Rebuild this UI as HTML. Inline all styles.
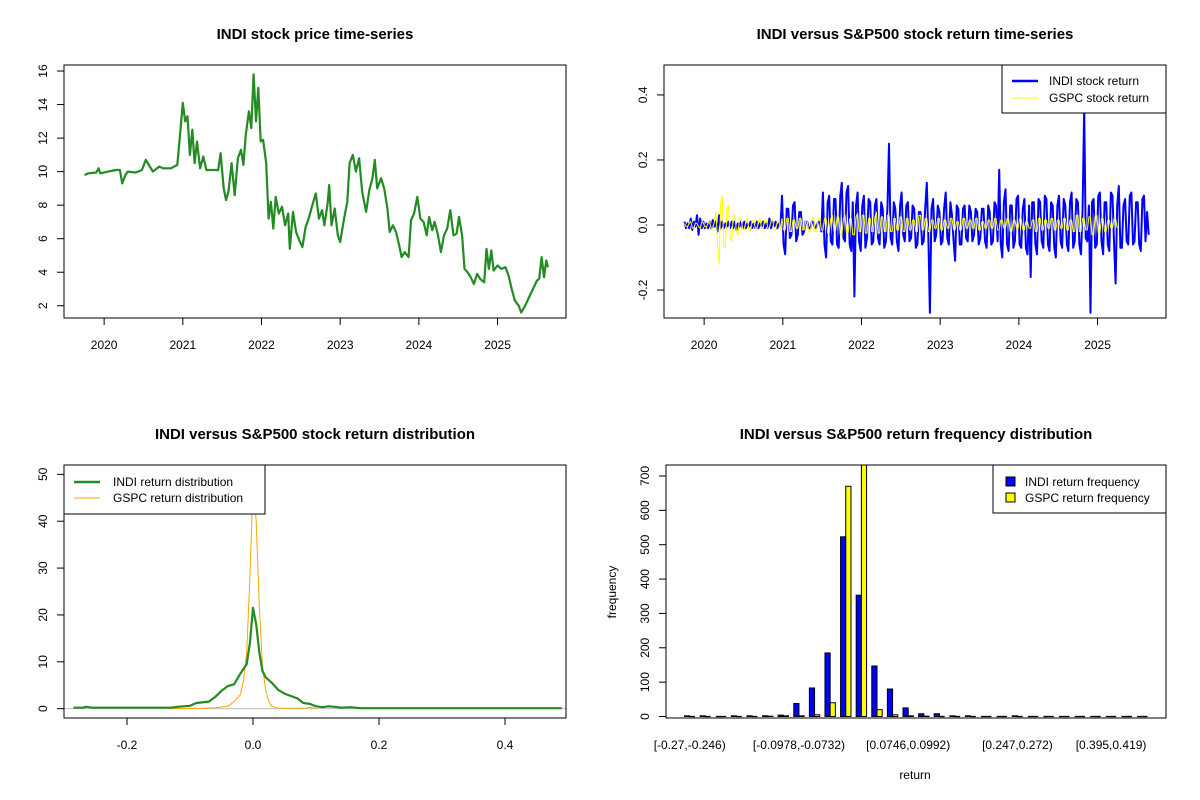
<!DOCTYPE html>
<html><head><meta charset="utf-8"><style>
html,body{margin:0;padding:0;background:#fff}
svg{display:block;font-family:"Liberation Sans",Arial,sans-serif}
</style></head><body>
<svg id="c" width="1200" height="800" xmlns="http://www.w3.org/2000/svg"></svg>
<script>
// ---------- data ----------
const priceT=[2019.75,2019.8,2019.9,2019.93,2019.95,2020.05,2020.15,2020.2,2020.23,2020.27,2020.3,2020.4,2020.48,2020.53,2020.58,2020.62,2020.7,2020.75,2020.85,2020.93,2020.97,2021.0,2021.03,2021.06,2021.09,2021.12,2021.15,2021.18,2021.22,2021.26,2021.3,2021.45,2021.48,2021.52,2021.55,2021.58,2021.62,2021.66,2021.7,2021.74,2021.77,2021.8,2021.84,2021.87,2021.9,2021.93,2021.96,2021.99,2022.02,2022.06,2022.09,2022.12,2022.15,2022.18,2022.22,2022.26,2022.3,2022.34,2022.36,2022.4,2022.44,2022.48,2022.52,2022.56,2022.6,2022.64,2022.69,2022.73,2022.77,2022.8,2022.84,2022.86,2022.89,2022.93,2022.97,2023.0,2023.05,2023.09,2023.12,2023.16,2023.2,2023.24,2023.28,2023.33,2023.37,2023.41,2023.44,2023.47,2023.52,2023.56,2023.6,2023.63,2023.67,2023.71,2023.75,2023.78,2023.82,2023.87,2023.9,2023.94,2023.98,2024.02,2024.06,2024.1,2024.13,2024.17,2024.2,2024.24,2024.28,2024.32,2024.36,2024.4,2024.44,2024.48,2024.51,2024.55,2024.58,2024.62,2024.66,2024.7,2024.74,2024.78,2024.83,2024.86,2024.89,2024.92,2024.95,2025.0,2025.05,2025.1,2025.14,2025.18,2025.22,2025.27,2025.3,2025.35,2025.4,2025.45,2025.5,2025.53,2025.56,2025.59,2025.62,2025.64];
const priceV=[9.8,9.9,9.95,10.2,9.9,10.0,10.1,10.1,9.3,9.8,10.0,9.95,10.1,10.7,10.3,10.0,10.3,10.2,10.2,10.4,12.5,14.1,13.0,13.3,11.0,12.5,10.5,11.8,10.2,10.9,10.1,10.1,11.1,9.0,8.3,8.8,10.5,8.6,10.8,11.3,10.4,12.2,13.6,12.6,15.8,13.0,15.0,11.8,11.9,10.5,7.2,8.2,6.6,8.5,7.5,7.9,6.8,7.5,5.4,7.6,6.4,5.9,5.5,6.7,7.2,7.9,8.7,7.2,7.7,6.8,8.1,9.2,6.8,7.8,6.2,5.8,7.2,8.2,10.5,11.0,10.0,10.8,8.8,7.6,8.9,9.6,10.7,9.0,9.6,9.0,7.8,6.4,6.8,6.4,5.6,4.9,5.2,4.9,7.1,7.5,8.5,7.2,7.0,6.2,7.3,6.5,7.0,6.3,5.2,6.2,6.6,7.7,6.2,6.3,7.3,6.2,4.2,4.0,3.7,3.3,3.9,3.6,3.4,5.4,4.2,5.3,4.1,4.4,4.2,4.3,3.8,3.0,2.3,2.0,1.6,2.0,2.5,3.0,3.5,3.6,4.9,3.7,4.7,4.3];
const retStart=2019.75, retStep=0.02;
const indiRet=[
0.01,-0.01,0.005,-0.01,0.02,-0.015,0.01,-0.005,0.03,-0.03,
0.02,-0.01,0.01,-0.01,0.005,-0.01,0.01,-0.01,0.015,-0.005,
0.01,-0.02,0.03,-0.01,0.01,-0.01,0.005,-0.005,0.01,-0.01,
0.01,-0.01,0.01,-0.015,0.005,-0.005,0.01,-0.01,0.01,-0.01,
0.005,-0.005,0.01,-0.01,0.005,-0.01,0.01,-0.01,0.005,-0.005,
0.01,-0.01,0.005,-0.01,0.02,-0.01,0.01,-0.005,0.01,-0.01,
0.005,-0.005,
0.09,-0.06,-0.09,0.05,0.05,-0.04,-0.03,0.06,0.07,-0.05,-0.03,0.04,0.04,-0.03,-0.02,0.01,
0.01,-0.01,-0.01,0.01,0.01,-0.01,-0.005,0.01,0.01,-0.02,
0.1,-0.06,-0.1,0.07,0.09,-0.05,-0.06,0.08,0.08,-0.06,-0.07,0.09,0.13,-0.04,-0.05,0.1,0.12,-0.06,-0.08,0.07,
-0.22,0.06,
0.1,-0.05,-0.08,0.06,0.09,-0.07,-0.04,0.08,0.07,-0.06,-0.05,0.06,0.08,-0.04,-0.06,0.07,0.05,-0.07,-0.05,0.06,
0.25,-0.04,
-0.06,0.07,0.05,-0.05,-0.08,0.06,0.1,-0.03,-0.05,0.06,0.07,-0.05,-0.04,0.06,0.05,-0.07,-0.06,0.04,0.04,-0.06,-0.05,0.05,0.13,-0.04,
-0.27,0.05,
0.08,-0.05,-0.03,0.06,0.04,-0.06,-0.05,0.05,0.1,-0.04,-0.06,0.07,0.03,-0.05,-0.11,0.06,0.05,-0.06,-0.06,0.05,0.06,-0.04,-0.05,0.06,0.04,-0.05,-0.03,0.05,0.04,-0.06,-0.04,0.05,0.05,-0.05,-0.07,0.06,0.04,-0.06,-0.05,0.07,0.06,-0.05,
0.17,-0.06,
-0.1,0.07,0.11,-0.06,-0.08,0.06,0.06,-0.07,-0.05,0.08,0.09,-0.06,-0.07,0.05,0.08,-0.07,-0.09,0.06,
-0.16,0.07,
0.07,-0.06,-0.09,0.08,0.07,-0.05,-0.07,0.09,0.08,-0.06,-0.08,0.07,0.06,-0.07,-0.1,0.06,0.09,-0.05,-0.07,0.08,0.06,-0.06,-0.08,0.07,0.1,-0.07,-0.05,0.08,0.07,-0.06,-0.09,0.05,
0.36,-0.04,-0.05,0.06,-0.27,0.07,
0.08,-0.07,-0.06,0.09,0.1,-0.05,-0.09,0.07,0.07,-0.06,-0.08,0.1,0.09,-0.06,
-0.18,0.06,0.12,-0.07,
-0.07,0.06,0.08,-0.05,-0.06,0.09,0.1,-0.06,-0.05,0.07,0.07,-0.06,-0.08,0.08,0.09,-0.05,0.04,-0.03];
const gspcRet=[
0.005,-0.005,-0.005,0.005,0.01,-0.01,-0.008,0.006,0.005,-0.005,-0.01,0.01,0.008,-0.006,-0.005,0.005,0.01,-0.01,-0.01,0.01,
0.04,-0.05,-0.12,0.07,0.09,-0.06,-0.07,0.05,0.06,-0.04,-0.05,0.03,0.03,-0.02,
-0.03,0.02,0.02,-0.015,-0.015,0.01,0.02,-0.015,-0.02,0.015,0.015,-0.01,-0.015,0.01,0.02,-0.01,-0.01,0.015,0.015,-0.01,-0.01,0.01,0.02,-0.015,-0.015,0.01,0.01,-0.01,
0.02,-0.015,-0.015,0.02,0.02,-0.02,-0.02,0.015,0.015,-0.01,-0.01,0.02,0.02,-0.015,-0.015,0.01,0.01,-0.02,-0.02,0.015,
0.025,-0.02,-0.02,0.02,0.02,-0.015,-0.015,0.02,0.02,-0.025,-0.025,0.02,0.03,-0.02,-0.02,0.025,0.025,-0.03,-0.03,0.02,
0.03,-0.025,-0.025,0.02,0.02,-0.03,-0.03,0.025,0.035,-0.02,-0.02,0.03,0.03,-0.025,-0.025,0.02,0.02,-0.02,-0.02,0.025,
0.04,-0.025,-0.025,0.025,0.025,-0.02,-0.02,0.03,0.03,-0.02,-0.02,0.02,0.02,-0.015,-0.015,0.025,0.025,-0.02,-0.02,0.02,
0.02,-0.015,-0.015,0.015,0.015,-0.02,-0.02,0.03,0.03,-0.015,-0.015,0.02,0.02,-0.02,-0.02,0.015,0.015,-0.01,-0.01,0.02,
0.02,-0.015,-0.015,0.015,0.015,-0.01,-0.01,0.02,0.02,-0.015,-0.015,0.01,0.01,-0.015,-0.015,0.02,0.02,-0.01,-0.01,0.015,
0.015,-0.01,-0.01,0.02,0.02,-0.015,-0.015,0.01,0.01,-0.01,-0.01,0.015,0.015,-0.01,-0.01,0.02,0.02,-0.015,-0.015,0.015,
0.015,-0.01,-0.01,0.02,0.02,-0.02,-0.02,0.015,0.015,-0.01,-0.01,0.02,0.02,-0.015,-0.015,0.01,0.01,-0.01,-0.01,0.015,
0.015,-0.02,-0.02,0.02,0.02,-0.015,-0.015,0.015,0.015,-0.01,-0.01,0.02,0.02,-0.015,-0.015,0.015,0.015,-0.01,-0.01,0.02,
0.02,-0.015,-0.015,0.015,0.015,-0.02,-0.02,0.03,0.03,-0.02,-0.02,0.02,0.02,-0.015,-0.015,0.025,0.025,-0.03,-0.03,0.03,
0.03,-0.025,-0.025,0.02,0.02,-0.02,-0.02,0.015,0.015,-0.01,-0.01,0.02,0.02,-0.01];
const indiDensX=[-0.285,-0.27,-0.265,-0.255,-0.13,-0.12,-0.1,-0.09,-0.07,-0.06,-0.05,-0.04,-0.03,-0.02,-0.01,-0.005,0,0.005,0.01,0.015,0.02,0.03,0.04,0.05,0.06,0.07,0.08,0.09,0.1,0.11,0.12,0.13,0.14,0.155,0.17,0.2,0.3,0.4,0.49];
const indiDensY=[0.2,0.2,0.4,0.2,0.2,0.4,0.6,1.2,1.5,2.5,3.8,4.8,5.2,7.5,9.5,14,21.5,18,12,8,6.7,5.5,4.0,3.2,2.7,2.2,1.2,1.0,0.5,0.3,0.5,0.4,0.2,0.3,0.1,0.1,0.1,0.1,0.1];
const gspcDensX=[-0.13,-0.08,-0.06,-0.04,-0.03,-0.02,-0.015,-0.01,-0.005,0,0.005,0.01,0.015,0.02,0.025,0.03,0.04,0.07,0.085,0.09,0.1];
const gspcDensY=[0,0.1,0.2,0.5,1.5,3,6,12,28,48,40,22,9,4,1.5,0.5,0.1,0.1,0.1,0.3,0];
const histIndi=[2,2,0,2,2,2,4,38,83,185,523,353,147,80,25,8,8,2,2,0,0,2,0,0,0,0,0,0,0,0];
const histGspc=[0,0,0,0,0,1,2,2,5,40,670,735,20,5,2,1,0,0,0,0,0,0,0,0,0,0,0,0,0,0];
const histLabels=["[-0.27,-0.246)","[-0.0978,-0.0732)","[0.0746,0.0992)","[0.247,0.272)","[0.395,0.419)"];
const histLabelGroups=[1,8,15,22,28];
const yearTicks=[2020,2021,2022,2023,2024,2025];
const priceTicks=[2,4,6,8,10,12,14,16];
const retTicks=[-0.2,0,0.2,0.4];
const densXTicks=[-0.2,0,0.2,0.4];
const densYTicks=[0,10,20,30,40,50];
const histYTicks=[0,100,200,300,400,500,600,700];

// ---------- helpers ----------
const svg=document.getElementById('c');
const NS='http://www.w3.org/2000/svg';
function mk(tag,attrs,parent){const e=document.createElementNS(NS,tag);for(const k in attrs)e.setAttribute(k,attrs[k]);(parent||svg).appendChild(e);return e;}
function txt(s,x,y,opt,parent){const e=mk('text',Object.assign({x:x,y:y,'font-size':12,'text-anchor':'middle',fill:'#000'},opt||{}),parent);e.textContent=s;return e;}
function lin(d0,d1,r0,r1){return v=>r0+(v-d0)/(d1-d0)*(r1-r0);}
function fmt(v){return (Math.abs(v)<1e-9)?'0.0':v.toFixed(1);}

const L=64,R=566,L2=664,R2=1166,T1=65,B1=318,T2=465,B2=718;

function panel(name,x0,x1,y0,y1,title){
  const g=mk('g',{});
  
  
  const t=txt(title,(x0+x1)/2,39,{'font-size':15,'font-weight':'bold'},g);
  
  
  if(y0>400){t.setAttribute('y',439);}
  return g;
}
function frame(g,x0,x1,y0,y1){const r=mk('rect',{x:x0,y:y0,width:x1-x0,height:y1-y0,fill:'none',stroke:'#000','stroke-width':1},g);}
function xAxis(g,ticks,sx,yb,labelFn,name){
  const a=mk('g',{},g);
  mk('line',{x1:sx(ticks[0]),x2:sx(ticks[ticks.length-1]),y1:yb,y2:yb,stroke:'#000'},a);
  ticks.forEach(v=>{mk('line',{x1:sx(v),x2:sx(v),y1:yb,y2:yb+7,stroke:'#000'},a);txt(labelFn(v),sx(v),yb+31,{},a);});
}
function yAxis(g,ticks,sy,xl,labelFn,name){
  const a=mk('g',{},g);
  mk('line',{x1:xl,x2:xl,y1:sy(ticks[0]),y2:sy(ticks[ticks.length-1]),stroke:'#000'},a);
  ticks.forEach(v=>{const y=sy(v);mk('line',{x1:xl,x2:xl-7,y1:y,y2:y,stroke:'#000'},a);
    txt(labelFn(v),0,0,{transform:`translate(${xl-17},${y}) rotate(-90)`},a);});
}
function poly(g,xs,ys,sx,sy,stroke,w,name){
  const pts=xs.map((x,i)=>sx(x).toFixed(1)+','+sy(ys[i]).toFixed(1)).join(' ');
  const p=mk('polyline',{points:pts,fill:'none',stroke:stroke,'stroke-width':w,'stroke-linejoin':'round'},g);
  
}

// ---------- panel 1: price ----------
{
  const g=panel('price-panel',L,R,T1,B1,'INDI stock price time-series');
  const sx=lin(2019.49,2025.87,L,R), sy=lin(1.27,16.36,B1,T1);
  poly(g,priceT,priceV,sx,sy,'#228B22',2.2,'price-line');
  frame(g,L,R,T1,B1);
  xAxis(g,yearTicks,v=>sx(v),B1,v=>String(v),'x-axis-years');
  yAxis(g,priceTicks,sy,L,v=>String(v),'y-axis-price');
}
// ---------- panel 2: returns ----------
{
  const g=panel('returns-panel',L2,R2,T1,B1,'INDI versus S&P500 stock return time-series');
  const sx=lin(2019.49,2025.87,L2,R2), sy=lin(-0.286,0.492,B1,T1);
  const ti=indiRet.map((v,i)=>retStart+i*retStep), tg=gspcRet.map((v,i)=>retStart+i*retStep);
  poly(g,ti,indiRet,sx,sy,'#0000FF',2,'indi-return-line');
  poly(g,tg,gspcRet,sx,sy,'#FFFF00',1,'gspc-return-line');
  frame(g,L2,R2,T1,B1);
  xAxis(g,yearTicks,v=>sx(v),B1,v=>String(v),'x-axis-years');
  yAxis(g,retTicks,sy,L2,fmt,'y-axis-return');
  const lg=mk('g',{},g);
  mk('rect',{x:1002,y:65,width:164,height:48,fill:'#fff',stroke:'#000'},lg);
  mk('line',{x1:1012,x2:1038,y1:81,y2:81,stroke:'#0000FF','stroke-width':2.5},lg);
  mk('line',{x1:1012,x2:1038,y1:98,y2:98,stroke:'#FFFF00','stroke-width':1},lg);
  txt('INDI stock return',1049,85,{'text-anchor':'start'},lg);
  txt('GSPC stock return',1049,102,{'text-anchor':'start'},lg);
}
// ---------- panel 3: density ----------
{
  const g=panel('density-panel',L,R,T2,B2,'INDI versus S&P500 stock return distribution');
  const sx=lin(-0.3,0.4968,L,R), sy=lin(-2,52,B2,T2);
  const z=mk('line',{x1:L,x2:R,y1:sy(0),y2:sy(0),stroke:'#bebebe'},g);
  
  poly(g,gspcDensX,gspcDensY,sx,sy,'#FFA500',1,'gspc-density-line');
  poly(g,indiDensX,indiDensY,sx,sy,'#228B22',2.2,'indi-density-line');
  frame(g,L,R,T2,B2);
  xAxis(g,densXTicks,sx,B2,fmt,'x-axis-return');
  yAxis(g,densYTicks,sy,L,v=>String(v),'y-axis-density');
  const lg=mk('g',{},g);
  mk('rect',{x:64,y:465,width:201,height:49,fill:'#fff',stroke:'#000'},lg);
  mk('line',{x1:74,x2:100,y1:482,y2:482,stroke:'#228B22','stroke-width':2.5},lg);
  mk('line',{x1:74,x2:100,y1:498,y2:498,stroke:'#FFA500','stroke-width':1},lg);
  txt('INDI return distribution',113,486,{'text-anchor':'start'},lg);
  txt('GSPC return distribution',113,502,{'text-anchor':'start'},lg);
}
// ---------- panel 4: histogram ----------
{
  const g=panel('histogram-panel',666,R2,T2,B2,'INDI versus S&P500 return frequency distribution');
  const n=histIndi.length;
  const u0=1-0.04*(3*n-1), u1=3*n+0.04*(3*n-1);
  const sx=lin(u0,u1,666,R2), sy=lin(0,732,716.5,T2);
  const cg=mk('g',{},g);
  const clip=mk('clipPath',{id:'hc'},g);mk('rect',{x:666,y:T2,width:R2-666,height:B2-T2},clip);
  cg.setAttribute('clip-path','url(#hc)');
  function bar(x0,x1,v,fill,name){
    let e;
    if(v<=0){e=mk('line',{x1:x0,x2:x1,y1:sy(0),y2:sy(0),stroke:'#000','stroke-width':1.3},cg);}
    else{e=mk('rect',{x:x0,y:sy(v),width:x1-x0,height:sy(0)-sy(v),fill:fill,stroke:'#000','stroke-width':1},cg);}
    
    
  }
  for(let i=0;i<n;i++){
    const b=i*3+1;
    bar(sx(b),sx(b+1),histIndi[i],'#0000FF','bar-indi');
    bar(sx(b+1),sx(b+2),histGspc[i],'#FFFF00','bar-gspc');
  }
  frame(g,666,R2,T2,B2);
  histLabels.forEach((s,k)=>{const gi=histLabelGroups[k]-1;const t=txt(s,sx(gi*3+2),749,{},g);
    });
  yAxis(g,histYTicks,sy,666,v=>String(v),'y-axis-frequency');
  const xt=txt('return',915,779,{},g);
  const yt=txt('frequency',0,0,{transform:'translate(616,592) rotate(-90)'},g);
  const lg=mk('g',{},g);
  mk('rect',{x:993,y:465,width:173,height:48,fill:'#fff',stroke:'#000'},lg);
  mk('rect',{x:1006,y:477,width:9,height:9,fill:'#0000FF',stroke:'#000'},lg);
  mk('rect',{x:1006,y:493,width:9,height:9,fill:'#FFFF00',stroke:'#000'},lg);
  txt('INDI return frequency',1025,486,{'text-anchor':'start'},lg);
  txt('GSPC return frequency',1025,502,{'text-anchor':'start'},lg);
}
</script>
</body></html>
